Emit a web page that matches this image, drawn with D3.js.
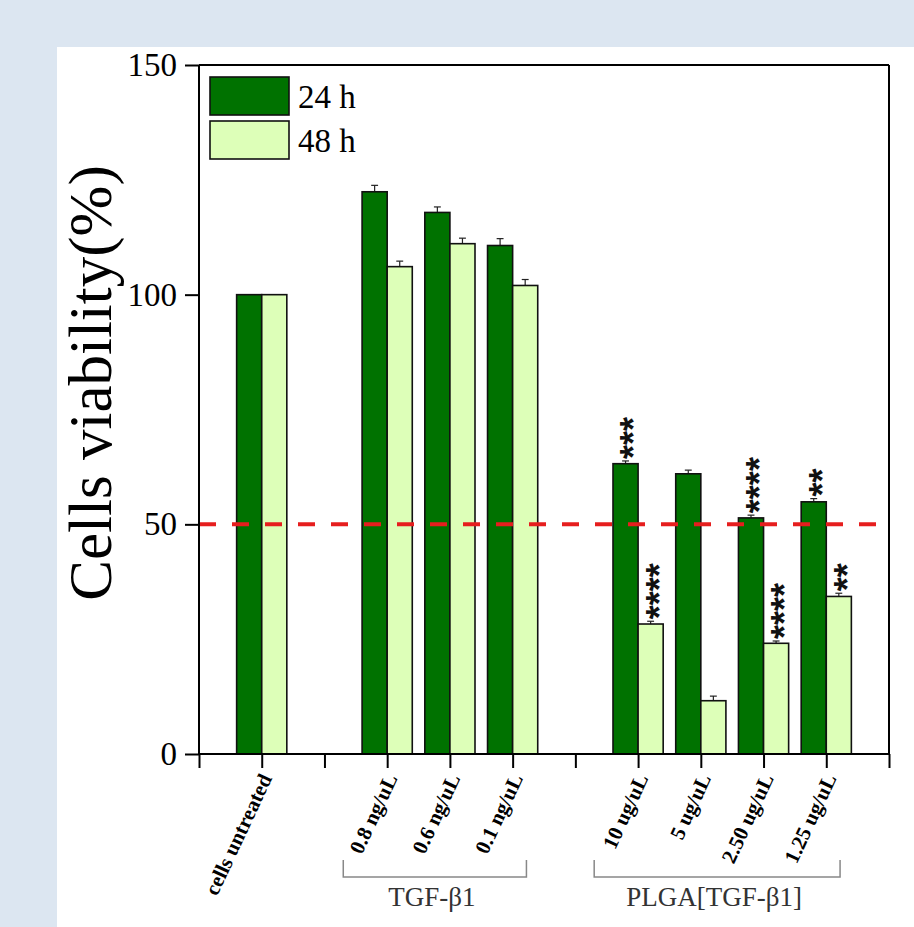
<!DOCTYPE html>
<html>
<head>
<meta charset="utf-8">
<script src="https://cdn.jsdelivr.net/npm/d3@7"></script>
<style>
  html, body { margin: 0; padding: 0; background: #dce6f1; }
  svg { display: block; }
</style>
</head>
<body>
<svg id="chart" width="914" height="927"></svg>
<script>
// Treatment groups and their concentrations
const groupNames = ["", "TGF-β1", "PLGA[TGF-β1]"];
const groupItems = [
  ["cells untreated"],
  ["0.8 ng/uL", "0.6 ng/uL", "0.1 ng/uL"],
  ["10 ug/uL", "5 ug/uL", "2.50 ug/uL", "1.25 ug/uL"]
];

// Cell viability (%) at 24 h and 48 h, with standard deviations
const viability24 = [100, 122.4, 117.9, 110.7, 63.2, 61.0, 51.4, 54.9];
const viability48 = [100, 106.1, 111.1, 102.0, 28.3, 11.6, 24.1, 34.3];
const error24 = [0, 1.4, 1.2, 1.5, 0.6, 0.8, 0.6, 0.7];
const error48 = [0, 1.2, 1.2, 1.3, 0.6, 1.0, 0.5, 0.7];
const signif24 = ["", "", "", "", "***", "", "****", "**"];
const signif48 = ["", "", "", "", "****", "", "****", "**"];

const seriesNames = ["24 h", "48 h"];
const yTicks = [0, 50, 100, 150];
const threshold = 50;

const colors = { "24 h": "#007200", "48 h": "#ddffb8" };
const serif = "'Liberation Serif', 'Times New Roman', serif";
const sans = "'Liberation Sans', Arial, sans-serif";

const svg = d3.select("#chart");

// white panel
svg.append("rect").attr("x", 57).attr("y", 47).attr("width", 914 - 57).attr("height", 927 - 47).attr("fill", "#ffffff");

// slot positions: one empty slot between groups
const slots = [];
let slot = 1;
groupItems.forEach((items, gi) => {
  items.forEach(name => { slots.push({ name, group: gi, pos: slot }); slot += 1; });
  slot += 1;
});
const nSlots = slot - 1; // 11

const plotLeft = 199, plotRight = 889, plotTop = 65, plotBottom = 754;
const x = d3.scaleLinear().domain([0, nSlots]).range([plotLeft, plotRight]);
const y = d3.scaleLinear().domain([0, 150]).range([plotBottom, plotTop]);

const barW = 0.4;   // in slot units
const capW = 0.11;

const rows = slots.map((s, i) => ({
  ...s,
  v24: viability24[i], v48: viability48[i],
  e24: error24[i], e48: error48[i],
  s24: signif24[i], s48: signif48[i]
}));

const g = svg.append("g");

// bars with error bars and significance marks
rows.forEach(r => {
  [["24 h", r.v24, r.e24, r.s24, -barW], ["48 h", r.v48, r.e48, r.s48, 0]].forEach(([name, v, e, s, off]) => {
    const x0 = x(r.pos + off), x1 = x(r.pos + off + barW);
    const cx = (x0 + x1) / 2;
    if (e > 0) {
      g.append("line").attr("x1", cx).attr("x2", cx).attr("y1", y(v)).attr("y2", y(v + e))
        .attr("stroke", "#222").attr("stroke-width", 1.2);
      g.append("line").attr("x1", x(r.pos + off + barW / 2 - capW / 2)).attr("x2", x(r.pos + off + barW / 2 + capW / 2))
        .attr("y1", y(v + e)).attr("y2", y(v + e)).attr("stroke", "#222").attr("stroke-width", 1.2);
    }
    g.append("rect").attr("x", x0).attr("y", y(v)).attr("width", x1 - x0).attr("height", y(0) - y(v))
      .attr("fill", colors[name]).attr("stroke", "#111").attr("stroke-width", 1.6);
    if (s) {
      g.append("text")
        .attr("transform", `translate(${cx},${y(v + e) - 2}) rotate(-90)`)
        .attr("dy", "0.58em")
        .attr("text-anchor", "start")
        .attr("font-family", sans).attr("font-size", 36).attr("font-weight", "bold")
        .attr("fill", "#111")
        .text(s);
    }
  });
});

// threshold line
svg.append("line").attr("x1", plotLeft).attr("x2", plotRight).attr("y1", y(threshold)).attr("y2", y(threshold))
  .attr("stroke", "#e61e1e").attr("stroke-width", 4).attr("stroke-dasharray", "17,16");

// frame
svg.append("line").attr("x1", plotLeft).attr("x2", plotRight).attr("y1", plotTop).attr("y2", plotTop).attr("stroke", "#000").attr("stroke-width", 2);
svg.append("line").attr("x1", plotRight).attr("x2", plotRight).attr("y1", plotTop).attr("y2", plotBottom).attr("stroke", "#000").attr("stroke-width", 2);

// y axis
const yAxis = svg.append("g").attr("transform", `translate(${plotLeft},0)`)
  .call(d3.axisLeft(y).tickValues(yTicks).tickSize(14).tickPadding(8).tickFormat(d3.format("d")));
yAxis.select(".domain").attr("stroke-width", 2).attr("d", `M0,${plotBottom}V${plotTop}`);
yAxis.selectAll(".tick line").attr("stroke-width", 2);
yAxis.selectAll(".tick text").attr("font-family", serif).attr("font-size", 33).attr("fill", "#000");

// x axis
const xAxis = svg.append("g").attr("transform", `translate(0,${plotBottom})`)
  .call(d3.axisBottom(x).tickValues(d3.range(0, nSlots + 1)).tickSize(14).tickFormat(""));
xAxis.select(".domain").attr("stroke-width", 2).attr("d", `M${plotLeft},0H${plotRight}`);
xAxis.selectAll(".tick line").attr("stroke-width", 2);

// category labels
rows.forEach(r => {
  svg.append("text")
    .attr("transform", `translate(${x(r.pos) + 4},${plotBottom + 21}) rotate(-65)`)
    .attr("dy", "0.35em")
    .attr("text-anchor", "end")
    .attr("font-family", serif).attr("font-size", 21).attr("font-weight", "bold")
    .attr("fill", "#000")
    .text(r.name);
});

// group brackets
groupNames.forEach((name, gi) => {
  if (!name) return;
  const members = rows.filter(r => r.group === gi);
  const x0 = x(members[0].pos - 0.7), x1 = x(members[members.length - 1].pos + 0.22);
  const by = 877;
  svg.append("path").attr("d", `M${x0},${by - 17}V${by}H${x1}V${by - 17}`)
    .attr("fill", "none").attr("stroke", "#888").attr("stroke-width", 1.5);
  svg.append("text").attr("x", (x0 + x1) / 2 - 3).attr("y", 906)
    .attr("text-anchor", "middle").attr("font-family", serif).attr("font-size", 27).attr("fill", "#333")
    .text(name);
});

// y axis title
svg.append("text")
  .attr("transform", `translate(111,383) rotate(-90)`)
  .attr("text-anchor", "middle").attr("font-family", serif).attr("font-size", 61).attr("fill", "#000")
  .text("Cells viability(%)");

// legend
seriesNames.forEach((name, i) => {
  const ly = 77 + i * 44;
  svg.append("rect").attr("x", 210).attr("y", ly).attr("width", 79).attr("height", 38)
    .attr("fill", colors[name]).attr("stroke", "#111").attr("stroke-width", 1.6);
  svg.append("text").attr("x", 298).attr("y", ly + 31)
    .attr("font-family", serif).attr("font-size", 33).attr("fill", "#000").text(name);
});
</script>
</body>
</html>
